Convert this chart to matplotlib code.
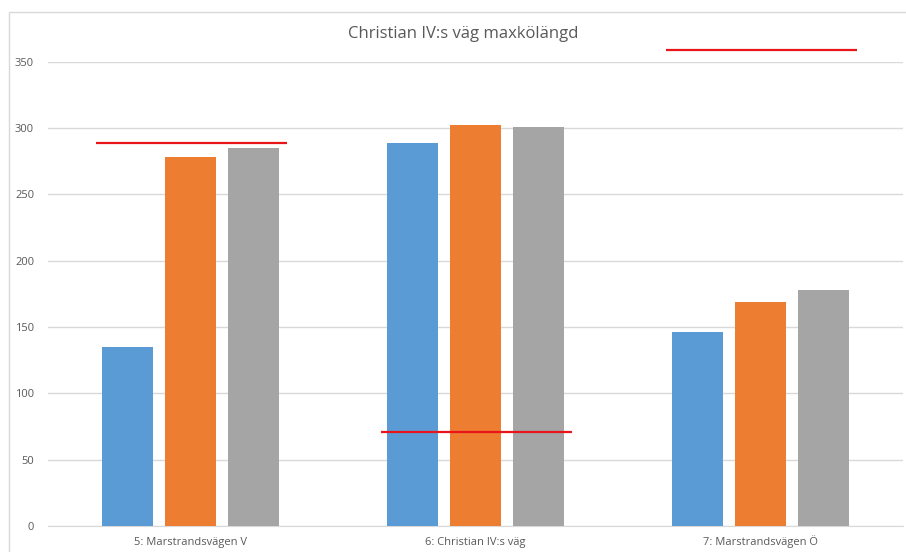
import matplotlib
matplotlib.use("Agg")
import matplotlib.pyplot as plt
import numpy as np
from matplotlib.patches import Rectangle

categories = ["5: Marstrandsvägen V", "6: Christian IV:s väg", "7: Marstrandsvägen Ö"]
series1 = [135, 289, 146]
series2 = [278, 302, 169]
series3 = [285, 301, 178]
red_levels = [289, 71, 359]
yticks = [0, 50, 100, 150, 200, 250, 300, 350]
title = "Christian IV:s väg maxkölängd"

colors = ["#5B9BD5", "#ED7D31", "#A5A5A5"]
plt.rcParams['font.family'] = ['Open Sans', 'DejaVu Sans']

fig = plt.figure(figsize=(9.06, 5.52), dpi=100)
fig.patch.set_facecolor("white")
fig.patches.append(Rectangle((9/906, -0.05), 1.1, (552-12)/552 + 0.05, transform=fig.transFigure,
                             fill=False, edgecolor="#D9D9D9", linewidth=1.0))
ax = fig.add_axes([48/906, (552-526)/552, (903-48)/906, (526-61.7)/552])

x = np.arange(len(categories))
w = 0.176
step = 0.221
for i, (vals, c) in enumerate(zip([series1, series2, series3], colors)):
    ax.bar(x + (i-1)*step, vals, width=w, color=c, zorder=3)

for xi, lv in zip(x, red_levels):
    ax.plot([xi-0.33, xi+0.34], [lv, lv], color="#E8161B", linewidth=1.6, zorder=5,
            clip_on=False, solid_capstyle='butt')

ax.set_xlim(-0.5, 2.5)
ax.set_ylim(0, 350)
ax.set_yticks(yticks)
ax.set_xticks(x)
ax.set_xticklabels(categories, va="baseline")
ax.yaxis.grid(True, color="#D9D9D9", linewidth=1.0, zorder=0)
ax.set_axisbelow(True)
for s in ["top", "right", "left"]:
    ax.spines[s].set_visible(False)
ax.spines["bottom"].set_color("#D9D9D9")
ax.tick_params(axis='both', length=0, colors="#595959", labelsize=8)
ax.tick_params(axis='y', pad=10)
ax.tick_params(axis='x', pad=13.5)

fig.text(463/906, (552-34)/552, title, ha="center", va="center", fontsize=12, color="#595959")

fig.savefig("out.png", dpi=100, facecolor="white")
